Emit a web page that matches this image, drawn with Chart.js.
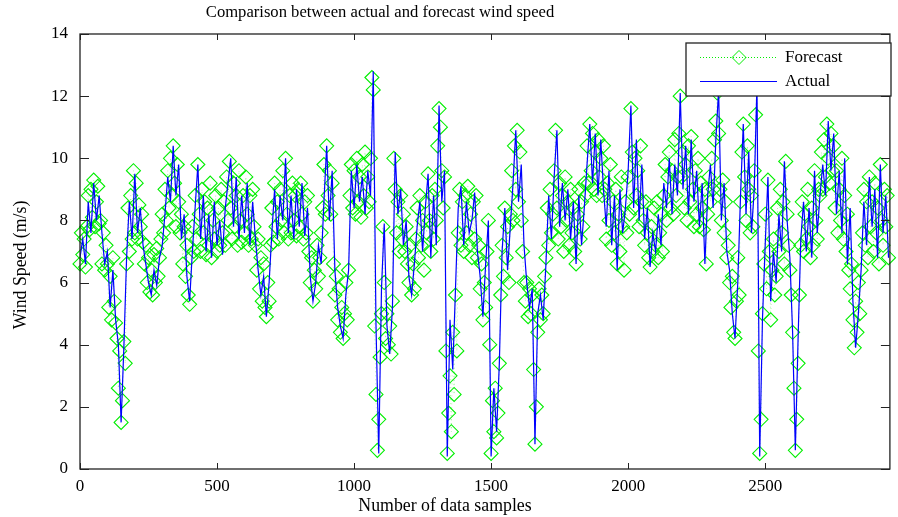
<!DOCTYPE html>
<html>
<head>
<meta charset="utf-8">
<script src="https://cdn.jsdelivr.net/npm/chart.js@4.4.0/dist/chart.umd.min.js"></script>
<style>
    html, body { margin: 0; padding: 0; background: #fff; }
</style>
</head>
<body>
<canvas id="windChart" width="898" height="517"></canvas>
<script>
// values: actual every 10 samples, forecast every 5
const ACTUAL_STEP = 10;
const FORECAST_STEP = 5;
const X_MAX = 2955;

const actual = [
    6.8, 7.4, 6.6, 8.6, 7.6, 9.2, 8.0, 8.8, 7.6, 6.6,
    7.0, 5.2, 6.4, 4.8, 4.0, 1.5, 3.9, 6.8, 8.6, 7.4,
    9.5, 7.6, 8.4, 7.2, 6.6, 6.0, 5.6, 6.4, 5.9, 6.8,
    7.2, 8.2, 9.4, 8.6, 10.4, 8.8, 9.8, 7.4, 8.2, 6.2,
    5.4, 7.0, 8.4, 9.8, 7.4, 8.8, 7.0, 8.2, 6.8, 8.6,
    7.2, 8.0, 6.9, 8.4, 9.2, 10.0, 7.8, 9.4, 7.4, 8.8,
    7.6, 9.2, 7.2, 8.6, 7.4, 6.4, 5.6, 6.2, 4.9, 6.0,
    7.6, 9.0, 7.4, 8.8, 8.0, 10.0, 7.6, 8.8, 7.4, 9.0,
    7.8, 9.2, 7.5, 8.4, 6.2, 5.4, 6.0, 7.2, 6.6, 8.6,
    10.4, 8.0, 9.6, 6.4, 5.2, 4.6, 4.2, 5.6, 6.4, 9.6,
    8.4, 9.8, 8.6, 9.4, 8.2, 9.6, 8.8, 12.8, 4.6, 0.5,
    5.8, 7.9, 4.6, 3.7, 5.2, 10.2, 8.2, 9.0, 7.2, 8.0,
    6.2, 5.6, 6.6, 7.8, 8.6, 7.0, 8.4, 9.5, 6.8, 8.8,
    7.2, 11.7, 8.6, 9.6, 0.4, 4.8, 3.2, 5.8, 8.4, 9.1,
    7.2, 8.6, 7.6, 8.0, 8.9, 7.0, 6.2, 4.9, 6.6, 8.0,
    0.4, 2.6, 1.2, 3.4, 7.0, 8.4, 6.4, 7.8, 9.2, 10.9,
    8.6, 9.8, 7.2, 6.0, 5.2, 5.8, 0.8, 5.0, 5.6, 4.8,
    6.6, 8.8, 7.4, 9.4, 10.9, 7.8, 9.2, 8.0, 9.0, 7.4,
    8.6, 6.6, 8.8, 7.2, 8.4, 9.8, 11.1, 9.2, 10.8, 8.8,
    10.6, 9.0, 7.8, 9.6, 7.2, 8.8, 6.4, 9.0, 7.6, 8.4,
    9.6, 11.7, 8.4, 10.6, 8.0, 9.8, 7.4, 8.4, 6.5, 7.6,
    7.0, 8.2, 7.2, 9.2, 8.4, 10.0, 8.2, 9.8, 8.8, 12.1,
    9.0, 10.4, 8.2, 10.6, 8.6, 9.6, 7.8, 9.2, 6.6, 8.8,
    9.8, 8.4, 10.6, 12.2, 8.0, 9.2, 7.0, 6.4, 5.0, 4.2,
    6.0, 8.8, 11.1, 8.2, 10.2, 7.6, 9.0, 12.4, 0.4, 4.8,
    7.2, 9.4, 5.4, 7.0, 6.0, 8.2, 7.0, 9.9, 8.0, 6.8,
    4.4, 0.6, 4.2, 7.4, 8.6, 7.0, 8.4, 6.8, 9.6, 7.6,
    8.8, 9.8, 8.8, 11.2, 9.6, 10.8, 8.2, 9.6, 7.6, 10.0,
    6.6, 8.4, 5.4, 3.9, 5.0, 6.4, 8.6, 7.2, 9.4, 7.8,
    9.0, 6.8, 9.8, 7.6, 8.8, 6.8
];

const forecast = [
    6.6, 7.6, 6.9, 7.4, 6.5, 7.8, 8.8, 7.7, 9.0, 8.1, 9.3, 7.8, 8.6, 9.1, 7.9, 8.0, 6.6, 7.6, 6.4, 7.2,
    6.6, 5.2, 6.2, 4.8, 6.8, 5.4, 4.7, 4.2, 2.6, 3.8, 1.5, 2.2, 4.1, 3.4, 6.6, 8.4, 7.0, 8.8, 7.4, 9.6,
    7.6, 9.2, 7.4, 8.5, 7.8, 8.2, 7.3, 6.6, 7.2, 6.0, 6.8, 5.7, 6.4, 5.6, 6.9, 6.0, 7.1, 6.2, 6.8, 7.4,
    8.2, 7.6, 9.0, 8.0, 9.6, 8.4, 10.0, 8.8, 10.4, 9.2, 7.8, 9.8, 8.6, 7.6, 8.2, 6.6, 7.8, 6.2, 7.2, 5.6,
    5.3, 6.8, 7.8, 7.0, 8.8, 7.4, 9.8, 8.2, 7.0, 9.0, 7.6, 8.6, 6.9, 8.4, 7.2, 9.2, 6.8, 8.0, 7.4, 8.8,
    7.0, 8.4, 7.2, 9.0, 7.6, 8.6, 7.2, 9.4, 8.0, 9.9, 8.4, 7.4, 9.2, 7.8, 8.8, 7.2, 9.6, 8.0, 7.3, 8.8,
    7.6, 9.4, 8.2, 7.2, 8.8, 7.4, 9.0, 7.8, 7.2, 6.4, 7.4, 5.8, 6.8, 5.4, 6.6, 5.2, 4.9, 6.0, 5.4, 7.2,
    8.4, 7.3, 9.2, 7.8, 8.6, 7.4, 9.0, 8.0, 9.6, 7.6, 10.0, 8.2, 7.4, 8.8, 7.6, 9.2, 8.0, 8.8, 7.5, 9.0,
    7.8, 9.2, 8.2, 7.4, 8.6, 7.6, 8.8, 7.0, 6.0, 6.8, 5.4, 6.4, 5.8, 7.2, 6.2, 6.8, 7.6, 8.4, 9.8, 8.2,
    10.4, 8.8, 9.6, 8.2, 9.2, 6.6, 5.6, 6.2, 4.8, 5.8, 4.4, 5.2, 4.2, 5.0, 6.0, 4.8, 6.4, 8.8, 9.8, 8.4,
    9.6, 8.2, 10.0, 8.6, 9.4, 8.1, 9.8, 8.8, 10.2, 8.4, 9.4, 8.6, 10.0, 12.6, 12.2, 4.6, 2.4, 0.6, 1.6, 3.6,
    5.0, 7.8, 6.0, 4.2, 5.0, 4.0, 4.6, 3.7, 5.4, 10.0, 9.0, 7.6, 8.6, 7.0, 8.8, 7.4, 8.2, 7.0, 7.8, 6.6,
    6.0, 7.2, 5.6, 6.6, 5.8, 7.4, 8.4, 6.8, 8.8, 7.2, 8.0, 6.4, 8.6, 7.6, 9.5, 8.0, 7.0, 8.8, 7.4, 9.0,
    8.0, 10.4, 11.6, 11.0, 9.6, 8.4, 9.4, 3.8, 0.5, 1.8, 3.0, 1.2, 4.4, 2.4, 5.6, 3.8, 7.6, 9.0, 7.2, 8.6,
    7.0, 8.8, 7.6, 9.1, 7.2, 8.2, 6.8, 8.6, 7.4, 8.8, 6.8, 7.2, 5.8, 6.6, 4.8, 6.0, 5.2, 7.0, 8.0, 4.0,
    0.5, 2.2, 1.2, 2.6, 1.0, 1.8, 3.4, 5.6, 7.2, 6.2, 8.4, 6.8, 7.8, 6.0, 8.2, 9.6, 8.0, 10.4, 9.0, 10.9,
    8.6, 10.2, 8.0, 7.0, 6.0, 5.4, 6.0, 4.9, 5.8, 5.0, 5.6, 3.2, 0.8, 2.0, 4.4, 5.8, 4.8, 5.6, 5.0, 6.2,
    6.8, 8.4, 7.2, 9.0, 7.6, 8.2, 9.6, 10.9, 8.4, 7.4, 9.2, 7.8, 8.8, 7.0, 9.4, 8.0, 8.6, 7.2, 9.0, 7.6,
    8.4, 7.0, 6.6, 8.2, 9.0, 7.4, 8.6, 7.8, 9.2, 8.8, 10.4, 9.2, 11.1, 9.6, 10.8, 9.0, 10.2, 8.8, 10.6, 9.4,
    10.0, 8.8, 10.4, 9.0, 7.4, 9.2, 8.0, 9.8, 7.2, 8.6, 7.6, 9.0, 6.6, 8.2, 7.0, 9.4, 7.8, 6.4, 8.6, 7.6,
    9.4, 8.2, 11.6, 10.2, 8.4, 10.0, 8.8, 9.6, 7.8, 10.4, 8.6, 8.0, 7.2, 8.6, 7.6, 6.8, 6.5, 7.8, 7.0, 8.4,
    7.2, 8.6, 6.8, 7.6, 8.2, 7.0, 8.8, 9.8, 8.0, 9.4, 10.2, 8.4, 9.6, 8.2, 10.6, 8.8, 9.4, 10.8, 12.0, 9.4,
    10.2, 8.4, 9.8, 8.0, 10.4, 8.6, 10.7, 9.0, 7.8, 9.6, 8.2, 10.0, 7.8, 9.2, 8.4, 7.7, 9.0, 6.6, 8.2, 9.4,
    8.6, 10.0, 9.0, 10.6, 11.2, 12.1, 10.8, 9.0, 8.0, 9.3, 7.6, 8.6, 6.8, 7.2, 6.0, 5.2, 6.2, 4.4, 4.2, 5.4,
    6.8, 5.6, 8.6, 10.2, 11.1, 9.4, 8.0, 10.4, 9.0, 7.6, 8.8, 7.8, 9.6, 11.4, 12.4, 3.8, 0.5, 1.6, 5.0, 6.6,
    8.2, 5.8, 9.3, 7.0, 4.8, 6.4, 7.4, 5.6, 6.2, 8.4, 7.0, 9.0, 7.6, 8.6, 6.6, 9.9, 8.2, 7.2, 6.4, 5.6,
    4.4, 2.6, 0.6, 1.6, 3.4, 5.6, 7.2, 8.6, 7.0, 8.2, 7.4, 9.0, 7.8, 6.8, 8.4, 7.2, 9.6, 8.0, 7.4, 9.0,
    8.8, 10.2, 9.0, 10.6, 9.4, 11.1, 10.0, 9.2, 10.8, 9.6, 10.4, 8.4, 9.6, 7.6, 9.0, 8.0, 10.0, 7.4, 8.8, 7.0,
    8.2, 6.4, 5.8, 6.6, 4.8, 3.9, 5.4, 4.4, 6.0, 5.0, 6.4, 7.6, 9.0, 7.2, 8.6, 6.8, 9.4, 7.8, 8.6, 7.0,
    9.2, 7.6, 8.4, 6.6, 9.8, 8.0, 7.2, 9.0, 7.8, 8.8, 6.8
];

const xTicks = [0, 500, 1000, 1500, 2000, 2500];
const yTicks = [0, 2, 4, 6, 8, 10, 12, 14];

const GREEN = '#00ee00';
const BLUE = '#0000ff';
const FONT = 'Liberation Serif, Times New Roman, serif';

const toPoints = (arr, step) => arr.map((v, i) => ({ x: i * step, y: v }));

// matlab-like box, inward ticks, titles and legend
const matlabFrame = {
    id: 'matlabFrame',
    afterDraw(chart) {
        const ctx = chart.ctx;
        const a = chart.chartArea;
        const xs = chart.scales.x;
        const ys = chart.scales.y;
        ctx.save();

        ctx.strokeStyle = '#222';
        ctx.lineWidth = 1.3;
        ctx.strokeRect(a.left, a.top, a.right - a.left, a.bottom - a.top);

        ctx.lineWidth = 1;
        ctx.beginPath();
        xTicks.forEach(v => {
            const px = Math.round(xs.getPixelForValue(v)) + 0.5;
            ctx.moveTo(px, a.bottom); ctx.lineTo(px, a.bottom - 6);
            ctx.moveTo(px, a.top); ctx.lineTo(px, a.top + 6);
        });
        yTicks.forEach(v => {
            const py = Math.round(ys.getPixelForValue(v)) + 0.5;
            ctx.moveTo(a.left, py); ctx.lineTo(a.left + 9, py);
            ctx.moveTo(a.right, py); ctx.lineTo(a.right - 9, py);
        });
        ctx.stroke();

        ctx.fillStyle = '#000';
        ctx.textBaseline = 'middle';
        ctx.textAlign = 'center';
        ctx.font = '16.6px ' + FONT;
        ctx.fillText('Comparison between actual and forecast wind speed', 380, 13);
        ctx.font = '17.8px ' + FONT;
        ctx.fillText('Number of data samples', 445, 506);

        ctx.save();
        ctx.translate(21, 265);
        ctx.rotate(-Math.PI / 2);
        ctx.fillText('Wind Speed (m/s)', 0, 0);
        ctx.restore();

        // legend
        const lx = 686, ly = 43, lw = 205, lh = 53;
        ctx.fillStyle = '#fff';
        ctx.fillRect(lx, ly, lw, lh);
        ctx.strokeStyle = '#222';
        ctx.lineWidth = 1.3;
        ctx.strokeRect(lx, ly, lw, lh);

        ctx.strokeStyle = GREEN;
        ctx.lineWidth = 1;
        ctx.setLineDash([1, 2]);
        ctx.beginPath();
        ctx.moveTo(700, 57.5); ctx.lineTo(777, 57.5);
        ctx.stroke();
        ctx.setLineDash([]);
        ctx.beginPath();
        ctx.moveTo(732, 57.5); ctx.lineTo(739, 50.5); ctx.lineTo(746, 57.5); ctx.lineTo(739, 64.5);
        ctx.closePath();
        ctx.stroke();

        ctx.strokeStyle = BLUE;
        ctx.lineWidth = 1.2;
        ctx.beginPath();
        ctx.moveTo(700, 81.5); ctx.lineTo(777, 81.5);
        ctx.stroke();

        ctx.fillStyle = '#000';
        ctx.textAlign = 'left';
        ctx.font = '17px ' + FONT;
        ctx.fillText('Forecast', 785, 58);
        ctx.fillText('Actual', 785, 82);

        ctx.restore();
    }
};

const ctx = document.getElementById('windChart').getContext('2d');
const chart = new Chart(ctx, {
    type: 'line',
    data: {
        datasets: [{
            label: 'Forecast',
            data: toPoints(forecast, FORECAST_STEP),
            borderColor: 'rgba(0,230,0,0.45)',
            borderWidth: 0.7,
            borderDash: [1, 3],
            pointStyle: 'rectRot',
            pointRadius: 7,
            pointBorderWidth: 1.1,
            pointBorderColor: GREEN,
            pointBackgroundColor: 'rgba(0,0,0,0)',
            tension: 0,
            clip: false,
            order: 1
        }, {
            label: 'Actual',
            data: toPoints(actual, ACTUAL_STEP),
            borderColor: BLUE,
            borderWidth: 1.2,
            pointRadius: 0,
            tension: 0,
            order: 0
        }]
    },
    options: {
        responsive: false,
        animation: false,
        layout: { padding: { top: 34, right: 6, left: 0, bottom: 0 } },
        plugins: {
            legend: { display: false },
            title: { display: false },
            tooltip: { enabled: false }
        },
        scales: {
            x: {
                type: 'linear',
                min: 0,
                max: X_MAX,
                grid: { display: false, drawTicks: false },
                border: { display: false },
                afterBuildTicks: s => { s.ticks = xTicks.map(v => ({ value: v })); },
                afterFit: s => { s.height = 48; },
                ticks: {
                    color: '#000', padding: 7, maxRotation: 0,
                    font: { family: FONT, size: 17 },
                    callback: v => String(v)
                }
            },
            y: {
                min: 0,
                max: 14,
                grid: { display: false, drawTicks: false },
                border: { display: false },
                afterBuildTicks: s => { s.ticks = yTicks.map(v => ({ value: v })); },
                afterFit: s => { s.width = 80; },
                ticks: {
                    color: '#000', padding: 12,
                    font: { family: FONT, size: 17 },
                    callback: v => String(v)
                }
            }
        }
    },
    plugins: [matlabFrame]
});
</script>
</body>
</html>
